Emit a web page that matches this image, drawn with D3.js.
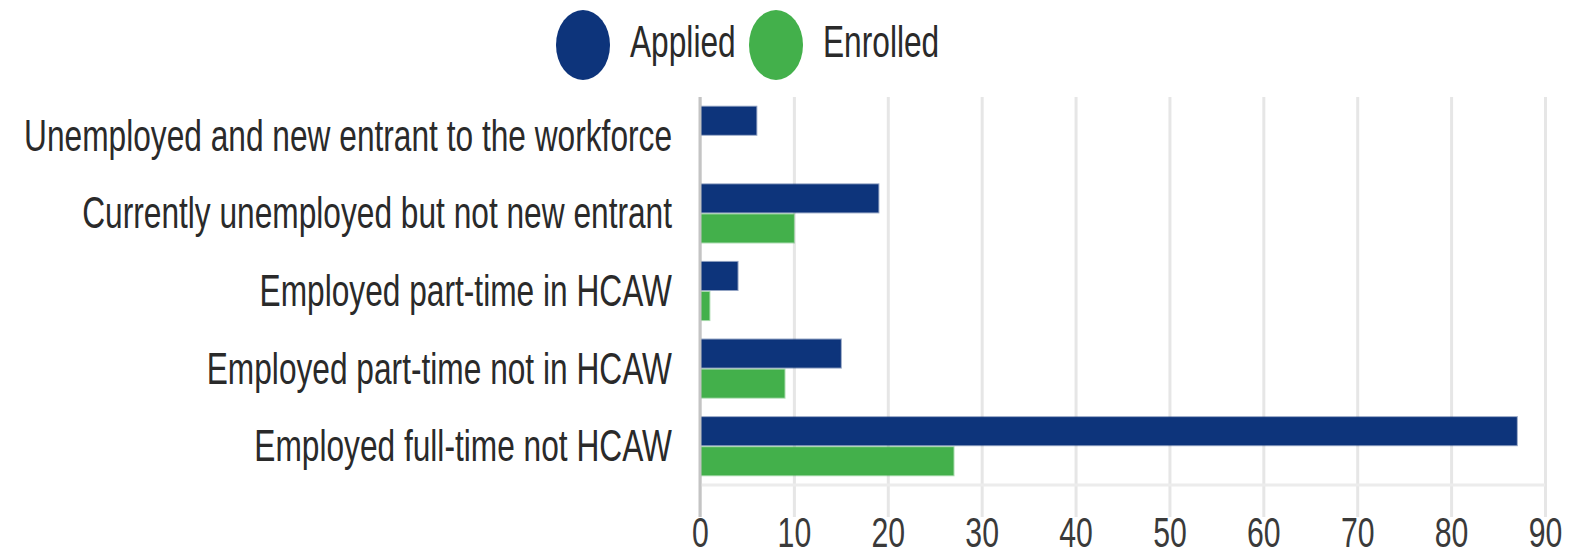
<!DOCTYPE html>
<html>
<head>
<meta charset="utf-8">
<script src="https://cdn.jsdelivr.net/npm/d3@7"></script>
<style>
  body { margin: 0; background: #fff; }
  svg { display: block; font-family: "Liberation Sans", Arial, sans-serif; }
  .grid line { stroke: #e6e6e6; stroke-width: 3; }
  .grid text { fill: #3a3a3a; font-size: 42px; }
  .cats text { fill: #2a2a2a; font-size: 44px; }
  .legend text { fill: #2a2a2a; font-size: 44px; }
</style>
</head>
<body>
<svg id="chart" width="1578" height="557"></svg>
<script>
var categories = [
  "Unemployed and new entrant to the workforce",
  "Currently unemployed but not new entrant",
  "Employed part-time in HCAW",
  "Employed part-time not in HCAW",
  "Employed full-time not HCAW"
];
var seriesNames = ["Applied", "Enrolled"];
var applied = [6, 19, 4, 15, 87];
var enrolled = [0, 10, 1, 9, 27];
var xTicks = [0, 10, 20, 30, 40, 50, 60, 70, 80, 90];
var colors = {Applied: "#0d347b", Enrolled: "#43b04b"};

// the source image is squeezed horizontally, so text gets the same squeeze
var squeeze = 0.72;

var plot = {left: 700, right: 1545, top: 97, bottom: 485};
var tickBottom = 517;

var svg = d3.select("#chart");

var x = d3.scaleLinear()
    .domain([0, 90])
    .range([plot.left, plot.right]);
var y = d3.scaleBand()
    .domain(categories)
    .range([plot.top, plot.bottom]);
var ySeries = d3.scaleBand()
    .domain(seriesNames)
    .range([0, y.bandwidth()])
    .paddingOuter(0.29);

// vertical gridlines + tick labels
var xAxis = d3.axisBottom(x)
    .tickValues(xTicks)
    .tickSizeInner(-(tickBottom - plot.top))
    .tickSizeOuter(0)
    .tickFormat(d3.format("d"));
var gx = svg.append("g")
    .attr("class", "grid")
    .attr("transform", `translate(0, ${tickBottom})`)
    .call(xAxis);
gx.select(".domain").remove();
gx.selectAll("text")
    .attr("y", 30)
    .attr("dy", null)
    .attr("transform", `scale(${squeeze}, 1)`);

// bottom border of the plot area
svg.append("line")
    .attr("x1", plot.left)
    .attr("x2", plot.right)
    .attr("y1", plot.bottom)
    .attr("y2", plot.bottom)
    .attr("stroke", "#ececec")
    .attr("stroke-width", 3);

// bars
var rows = categories.map(function(c, i) {
  return {cat: c, values: [
    {name: "Applied", v: applied[i]},
    {name: "Enrolled", v: enrolled[i]}
  ]};
});
var row = svg.selectAll("g.row")
    .data(rows)
    .enter().append("g")
        .attr("class", "row")
        .attr("transform", function(d) { return `translate(0, ${y(d.cat)})`; });
row.selectAll("rect")
    .data(function(d) { return d.values; })
    .enter().append("rect")
        .attr("x", x(0))
        .attr("y", function(d) { return ySeries(d.name) + 1; })
        .attr("width", function(d) { return x(d.v) - x(0); })
        .attr("height", ySeries.bandwidth() - 2)
        .attr("fill", function(d) { return colors[d.name]; })
        .attr("stroke", function(d) { return colors[d.name]; })
        .attr("stroke-opacity", 0.45)
        .attr("stroke-width", 2);

// zero axis line
svg.append("line")
    .attr("x1", x(0))
    .attr("x2", x(0))
    .attr("y1", plot.top)
    .attr("y2", tickBottom)
    .attr("stroke", "#c4c4c4")
    .attr("stroke-width", 3);

// category labels
var cats = svg.append("g").attr("class", "cats");
cats.selectAll("text")
    .data(categories)
    .enter().append("text")
        .attr("transform", function(d) {
          return `translate(672, ${y(d) + y.bandwidth() / 2 + 15}) scale(${squeeze}, 1)`;
        })
        .style("text-anchor", "end")
        .text(function(d) { return d; });

// legend
var legendPos = [{name: "Applied", cx: 583, tx: 630}, {name: "Enrolled", cx: 776, tx: 823}];
var legend = svg.append("g").attr("class", "legend");
var item = legend.selectAll("g")
    .data(legendPos)
    .enter().append("g");
item.append("ellipse")
    .attr("cx", function(d) { return d.cx; })
    .attr("cy", 45)
    .attr("rx", 27)
    .attr("ry", 35)
    .attr("fill", function(d) { return colors[d.name]; });
item.append("text")
    .attr("transform", function(d) { return `translate(${d.tx}, 57) scale(${squeeze}, 1)`; })
    .text(function(d) { return d.name; });
</script>
</body>
</html>
